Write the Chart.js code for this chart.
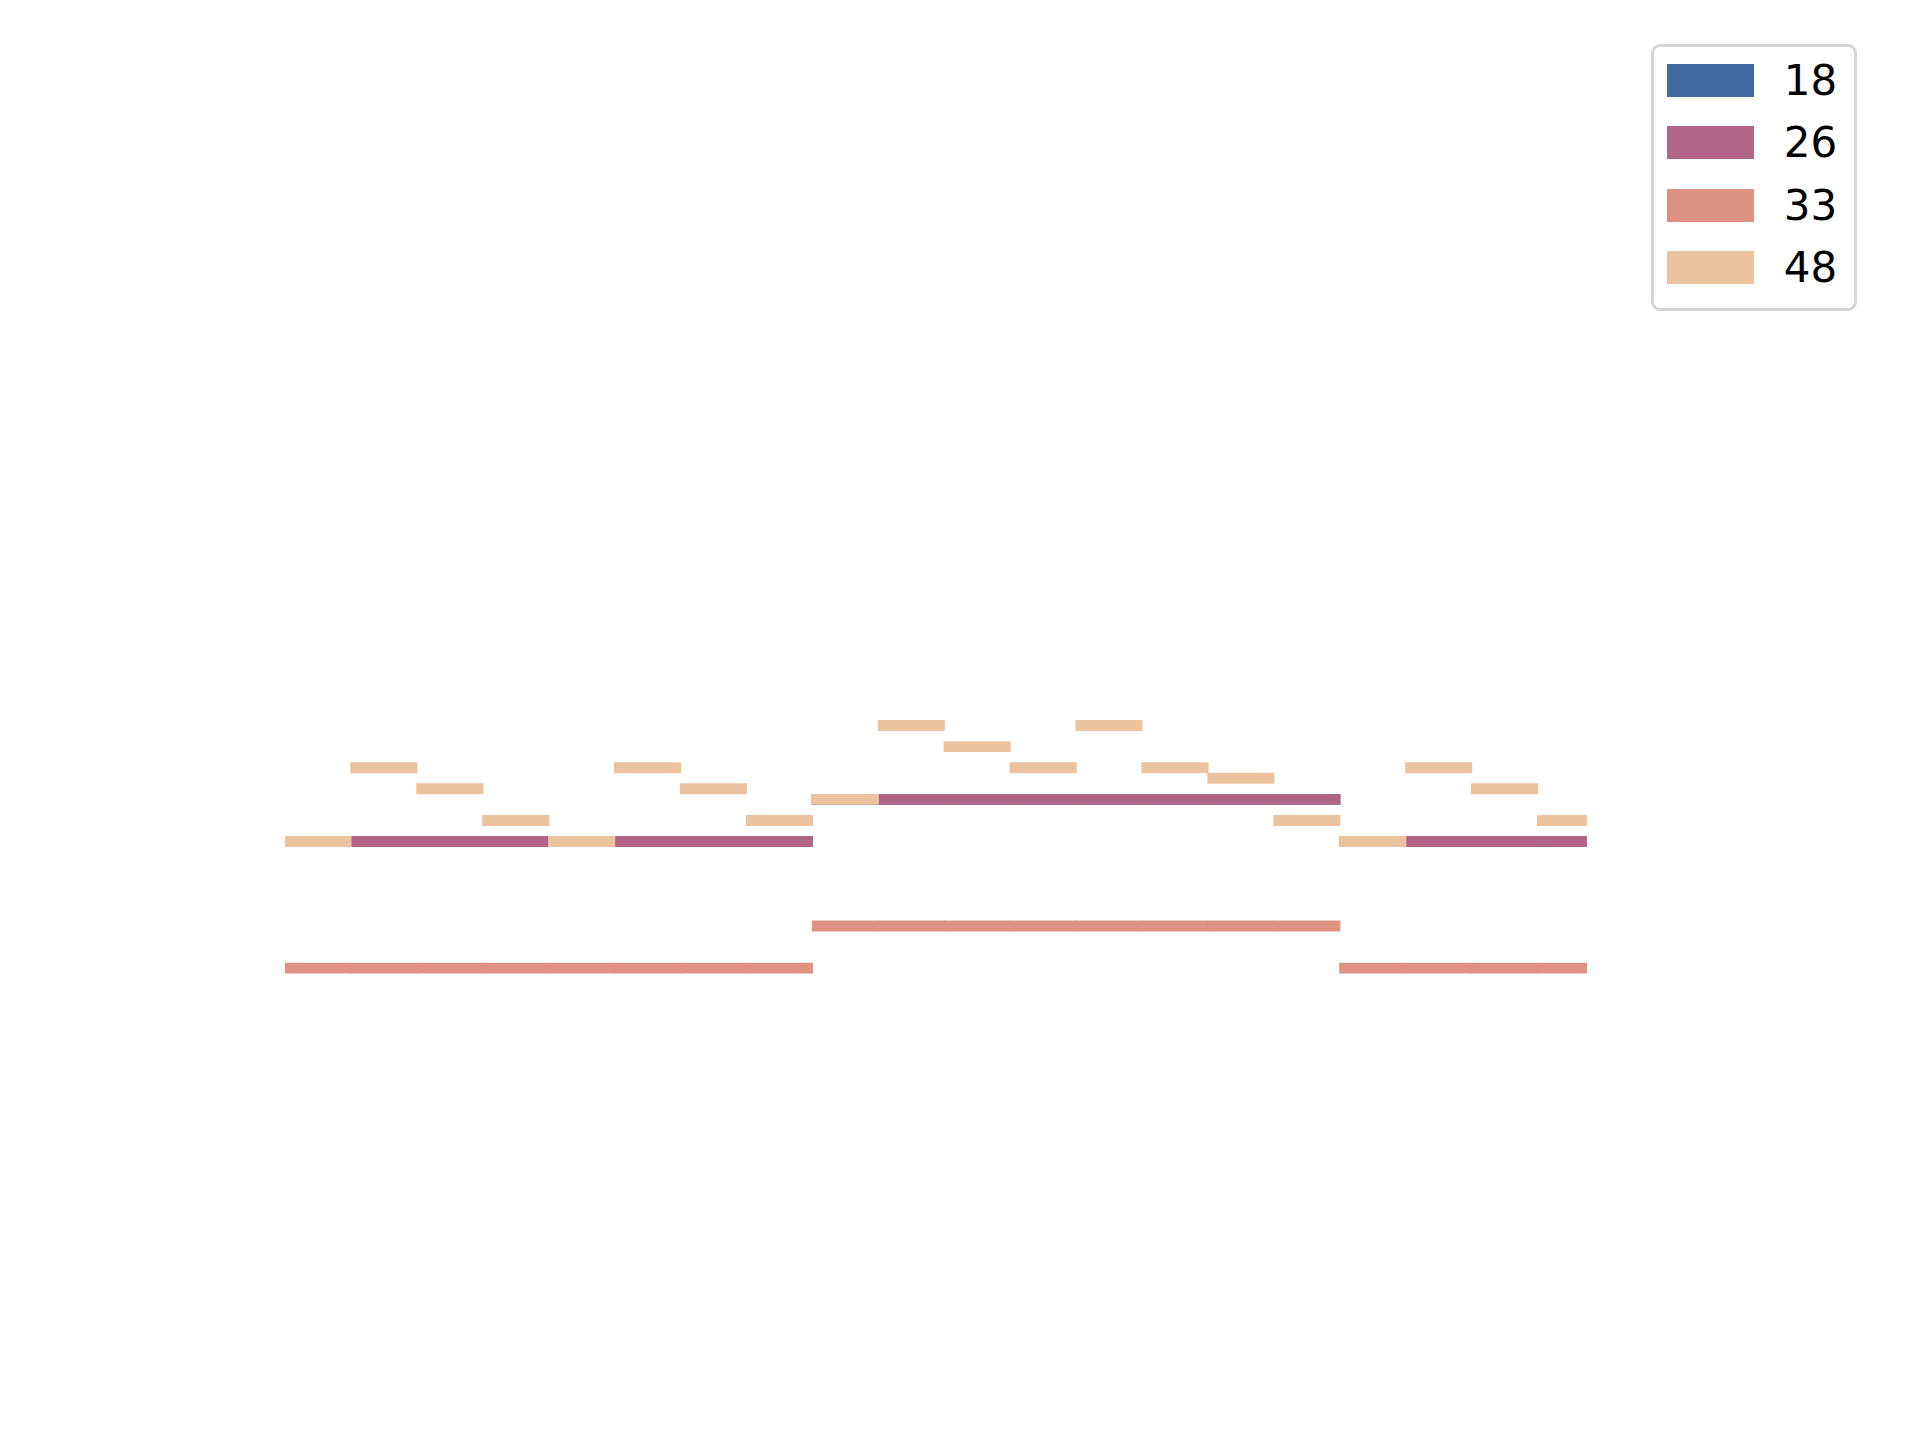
<!DOCTYPE html>
<html>
<head>
<meta charset="utf-8">
<script src="https://cdn.jsdelivr.net/npm/chart.js@4.4.1/dist/chart.umd.min.js"></script>
<style>
html,body{margin:0;padding:0;background:#ffffff;}
#wrap{position:relative;width:1920px;height:1440px;background:#ffffff;}
#chart{position:absolute;left:0;top:0;}
#legend{position:absolute;left:1651px;top:44px;width:206px;height:267px;box-sizing:border-box;border:3.3px solid #d6d6d6;border-radius:9px;background:#ffffff;}
.patch{position:absolute;width:87px;height:33px;}
.label{position:absolute;font-family:"DejaVu Sans",sans-serif;font-size:42px;line-height:42px;color:#000;white-space:nowrap;}
</style>
</head>
<body>
<div id="wrap">
<canvas id="chart" width="1920" height="1440"></canvas>
<div id="legend"></div>
</div>
<script>
// ---- data ----
const periods = [0,1,2,3,4,5,6,7,8,9,10,11,12,13,14,15,16,17,18,19];
const periodEnd = 19.75;
const seriesNames = ['18','26','33','48'];
const values18 = [19,19,19,19,19,19,19,19,23,23,23,23,23,23,23,23,19,19,19,19];
const values26 = [19,19,19,19,19,19,19,19,23,23,23,23,23,23,23,23,19,19,19,19];
const values33 = [7,7,7,7,7,7,7,7,11,11,11,11,11,11,11,11,7,7,7,7];
const values48 = [19,26,24,21,19,26,24,21,23,30,28,26,30,26,25,21,19,26,24,21];
const seriesColors = ['#436aa0','#b16687','#de9284','#ebc39e'];

// ---- chart ----
const half = 0.46;
const allValues = [values18, values26, values33, values48];
const datasets = allValues.map((vals, i) => ({
  label: seriesNames[i],
  data: periods.map((p, j) => ({x: p + 0.5, y: [vals[j] - half, vals[j] + half]})),
  backgroundColor: seriesColors[i],
  borderWidth: 0,
  inflateAmount: 0.6,
  order: allValues.length - 1 - i,
  clip: 0
}));

new Chart(document.getElementById('chart'), {
  type: 'bar',
  data: {datasets},
  options: {
    responsive: false,
    animation: false,
    devicePixelRatio: 1,
    layout: {padding: {left: 285, right: 333, top: 409, bottom: 398}},
    datasets: {bar: {grouped: false, barPercentage: 1, categoryPercentage: 1}},
    scales: {
      x: {type: 'linear', min: 0, max: periodEnd, offset: false, display: false, grid: {offset: false}},
      y: {min: 0, max: 60, display: false}
    },
    plugins: {legend: {display: false}, tooltip: {enabled: false}, title: {display: false}}
  }
});

// ---- legend ----
const legend = document.getElementById('legend');
const rowCenters = [80.3, 142.9, 205.5, 268.1];
seriesNames.forEach((name, i) => {
  const c = rowCenters[i] - 44 - 3.3;
  const p = document.createElement('div');
  p.className = 'patch';
  p.style.left = (1667 - 1651 - 3.3) + 'px';
  p.style.top = (c - 16.5) + 'px';
  p.style.background = seriesColors[i];
  legend.appendChild(p);
  const t = document.createElement('div');
  t.className = 'label';
  t.style.left = (1784 - 1651 - 3.3) + 'px';
  t.style.top = (c - 20.5) + 'px';
  t.textContent = name;
  legend.appendChild(t);
});
</script>
</body>
</html>
